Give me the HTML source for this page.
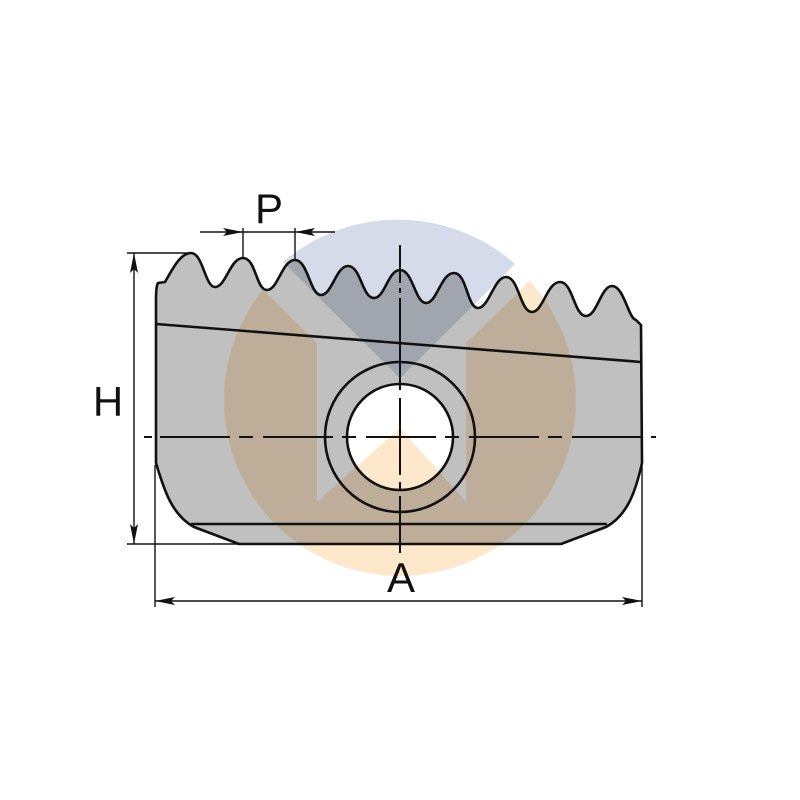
<!DOCTYPE html>
<html><head><meta charset="utf-8"><style>html,body{margin:0;padding:0;background:#fff}svg{display:block}</style></head>
<body>
<svg width="800" height="800" viewBox="0 0 800 800" xmlns="http://www.w3.org/2000/svg">
<defs>
<marker id="ar" viewBox="0 0 20 10" refX="20" refY="5" markerWidth="20" markerHeight="10" markerUnits="userSpaceOnUse" orient="auto-start-reverse"><path d="M0,1 L20,5 L0,9 L4,5 Z" fill="#111"/></marker>
<clipPath id="cc"><circle cx="400" cy="400" r="176"/></clipPath>
</defs>
<!-- body -->
<path d="M156,463 L156,300 Q156,286 158,283 L165,282
C172,270 180,253 191,253 C203,253 205,287 215,287 C226,287 230,258 243,258 C256,258 256,290 267,290
C278,290 282,260 295,260 C308,260 310,295 321,295 C332,295 336,266 348,266 C361,266 362,298 374,298
C385,298 388,270 400,270 C413,270 415,303 426,303 C437,303 441,273 454,273 C467,273 467,308 478,308
C489,308 494,277 506,277 C519,277 520,312 532,312 C543,312 547,282 560,282 C573,282 574,316 586,316
C597,316 601,286 612,286 C624,286 628,318 636,320 L641,325 L642,463
C636,490 628,515 606,527 L561,544 L239,544 L194,527 C172,515 164,490 156,463 Z" fill="#c0c0c0" stroke="#111" stroke-width="2.6" stroke-linejoin="round"/>
<circle cx="400" cy="437" r="53" fill="#fff"/>
<!-- watermark -->
<g style="mix-blend-mode:multiply">
<path d="M400,378 L283,262 A177,177 0 0 1 515,264 Z" fill="#d5dbe8"/>
<path clip-path="url(#cc)" fill="#fde8cc" d="M200,200 L263,290 L317,343 L317,502 L400,428 L466,502 L466,343 L521,290 L600,200 L600,600 L200,600 Z"/>
</g>
<g fill="none" stroke="#111" stroke-width="2.6">
<circle cx="400" cy="437" r="75"/>
<circle cx="400" cy="437" r="53"/>
<line x1="156" y1="324" x2="641" y2="362"/>
<line x1="191" y1="524" x2="607" y2="524"/>
</g>
<!-- center lines -->
<g stroke="#111" stroke-width="2">
<line x1="144" y1="437" x2="152" y2="437"/>
<line x1="160" y1="437" x2="656" y2="437" stroke-dasharray="70 9 14 10"/>
<line x1="400" y1="245" x2="400" y2="283"/><line x1="400" y1="288" x2="400" y2="293"/>
<line x1="400" y1="298" x2="400" y2="390"/><line x1="400" y1="398" x2="400" y2="475"/>
<line x1="400" y1="482" x2="400" y2="489"/><line x1="400" y1="496" x2="400" y2="553"/>
</g>
<!-- dimensions -->
<g stroke="#111" stroke-width="1.4" fill="none">
<line x1="127" y1="253" x2="190" y2="253"/>
<line x1="127" y1="544" x2="240" y2="544"/>
<line x1="134" y1="253" x2="134" y2="544" marker-start="url(#ar)" marker-end="url(#ar)"/>
<line x1="155" y1="465" x2="155" y2="607"/>
<line x1="642" y1="465" x2="642" y2="607"/>
<line x1="155" y1="601" x2="642" y2="601" marker-start="url(#ar)" marker-end="url(#ar)"/>
<line x1="243" y1="228" x2="243" y2="258"/>
<line x1="295" y1="228" x2="295" y2="260"/>
<line x1="200" y1="232" x2="243" y2="232" marker-end="url(#ar)"/>
<line x1="335" y1="232" x2="295" y2="232" marker-end="url(#ar)"/>
<line x1="243" y1="232" x2="295" y2="232"/>
</g>
<g font-family="Liberation Sans, sans-serif" font-size="42" fill="#111" text-anchor="middle">
<text x="269" y="223">P</text>
<text x="108" y="416">H</text>
<text x="401" y="592">A</text>
</g>
</svg>
</body></html>
